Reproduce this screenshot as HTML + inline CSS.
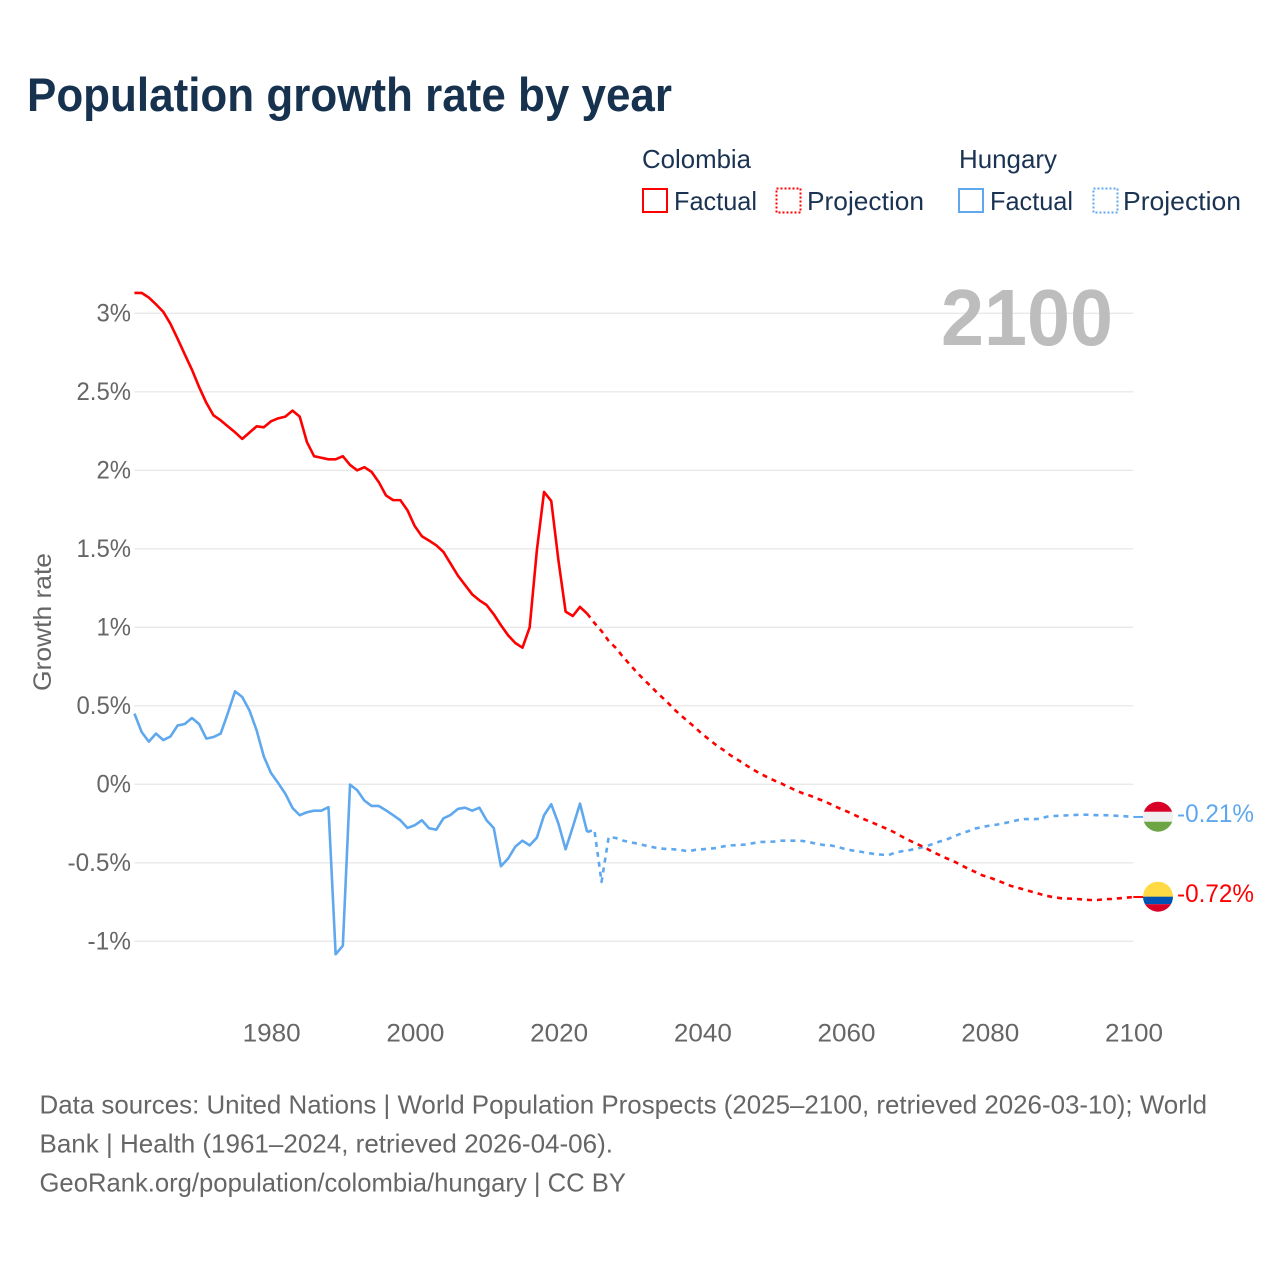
<!DOCTYPE html>
<html lang="en">
<head>
<meta charset="utf-8">
<title>Population growth rate by year</title>
<style>
html,body{margin:0;padding:0;background:#fff;}
svg{display:block;font-family:"Liberation Sans",sans-serif;}
</style>
</head>
<body>
<svg id="chart" xmlns="http://www.w3.org/2000/svg" width="1280" height="1280" viewBox="0 0 1280 1280">
  <defs>
    <clipPath id="clip-hu"><circle cx="1158" cy="816.7" r="15"/></clipPath>
    <clipPath id="clip-co"><circle cx="1158" cy="896.7" r="15"/></clipPath>
  </defs>
  <rect width="1280" height="1280" fill="#fff"/>

  <text x="27" y="111" font-size="47" font-weight="700" fill="#17324f" textLength="645" lengthAdjust="spacingAndGlyphs">Population growth rate by year</text>

  <g font-size="26" fill="#1b3352">
    <text x="642" y="168" textLength="109" lengthAdjust="spacingAndGlyphs">Colombia</text>
    <text x="959" y="168" textLength="98" lengthAdjust="spacingAndGlyphs">Hungary</text>
    <rect x="643" y="189" width="24" height="23" fill="none" stroke="#ff0000" stroke-width="2"/>
    <text x="674" y="210" textLength="83" lengthAdjust="spacingAndGlyphs">Factual</text>
    <rect x="776.5" y="188.5" width="24" height="24" fill="none" stroke="#ff0000" stroke-width="2" stroke-dasharray="2 2"/>
    <text x="807" y="210" textLength="117" lengthAdjust="spacingAndGlyphs">Projection</text>
    <rect x="959" y="189" width="24" height="23" fill="none" stroke="#5fa8ee" stroke-width="2"/>
    <text x="990" y="210" textLength="83" lengthAdjust="spacingAndGlyphs">Factual</text>
    <rect x="1093.5" y="188.5" width="24" height="24" fill="none" stroke="#5fa8ee" stroke-width="2" stroke-dasharray="2 2"/>
    <text x="1123" y="210" textLength="118" lengthAdjust="spacingAndGlyphs">Projection</text>
  </g>

  <g id="grid"></g>
  <g id="yticks" font-size="25" fill="#666"></g>
  <g id="xticks" font-size="25" fill="#666"></g>

  <text transform="translate(51 691) rotate(-90)" font-size="25" fill="#666" textLength="138" lengthAdjust="spacingAndGlyphs">Growth rate</text>

  <text x="941" y="345" font-size="80" font-weight="700" fill="#bdbdbd" textLength="172" lengthAdjust="spacingAndGlyphs">2100</text>

  <g id="series"></g>

  <g clip-path="url(#clip-hu)">
    <rect x="1143" y="801" width="30" height="11" fill="#d80027"/>
    <rect x="1143" y="811.7" width="30" height="10" fill="#f0f0f0"/>
    <rect x="1143" y="821.7" width="30" height="11" fill="#6da544"/>
  </g>
  <g clip-path="url(#clip-co)">
    <rect x="1143" y="881" width="30" height="16" fill="#ffda44"/>
    <rect x="1143" y="896.7" width="30" height="7.5" fill="#0052b4"/>
    <rect x="1143" y="904.2" width="30" height="9" fill="#d80027"/>
  </g>
  <text x="1177" y="822" font-size="25" fill="#5fa8ee" textLength="77" lengthAdjust="spacingAndGlyphs">-0.21%</text>
  <text x="1177" y="902" font-size="25" fill="#ff0000" textLength="77" lengthAdjust="spacingAndGlyphs">-0.72%</text>

  <g font-size="26" fill="#666">
    <text x="39.5" y="1113.5" textLength="1167.5" lengthAdjust="spacingAndGlyphs">Data sources: United Nations | World Population Prospects (2025–2100, retrieved 2026-03-10); World</text>
    <text x="39.5" y="1152.5" textLength="573.5" lengthAdjust="spacingAndGlyphs">Bank | Health (1961–2024, retrieved 2026-04-06).</text>
    <text x="39.5" y="1191.5" textLength="586.5" lengthAdjust="spacingAndGlyphs">GeoRank.org/population/colombia/hungary | CC BY</text>
  </g>
</svg>

<script>
const factualStartYear = 1961;
const projectionStartYear = 2024;
const yTickValues = [3, 2.5, 2, 1.5, 1, 0.5, 0, -0.5, -1];
const yTickLabels = ["3%", "2.5%", "2%", "1.5%", "1%", "0.5%", "0%", "-0.5%", "-1%"];
const xTickValues = [1980, 2000, 2020, 2040, 2060, 2080, 2100];

// 1961-2024
const colombiaFactual = [
3.13,3.13,3.10,3.057,3.01,2.934,2.838,2.739,2.641,2.53,
2.43,2.35,2.318,2.28,2.242,2.20,2.24,2.28,2.274,2.312,
2.331,2.342,2.38,2.342,2.18,2.09,2.08,2.07,2.07,2.09,
2.034,2.00,2.02,1.99,1.925,1.84,1.81,1.81,1.745,1.645,
1.58,1.552,1.522,1.48,1.405,1.33,1.27,1.21,1.172,1.142,
1.083,1.013,0.949,0.90,0.87,1.00,1.49,1.862,1.805,1.427,
1.10,1.072,1.13,1.087];

// 2024-2100
const colombiaProjection = [
1.087,1.028,0.976,0.913,0.868,0.811,0.76,0.709,0.662,0.618,
0.571,0.531,0.482,0.441,0.401,0.363,0.32,0.285,0.248,0.217,
0.183,0.155,0.125,0.096,0.07,0.047,0.025,0.006,-0.017,-0.038,
-0.057,-0.072,-0.091,-0.108,-0.129,-0.151,-0.17,-0.191,-0.212,-0.231,
-0.25,-0.27,-0.289,-0.312,-0.338,-0.361,-0.382,-0.403,-0.429,-0.45,
-0.471,-0.49,-0.514,-0.537,-0.558,-0.58,-0.594,-0.611,-0.629,-0.648,
-0.66,-0.673,-0.686,-0.699,-0.711,-0.72,-0.726,-0.728,-0.73,-0.734,
-0.737,-0.737,-0.732,-0.73,-0.726,-0.722,-0.718];

// 1961-2024
const hungaryFactual = [
0.45,0.333,0.272,0.323,0.282,0.304,0.374,0.384,0.422,0.384,
0.291,0.301,0.323,0.454,0.592,0.556,0.471,0.344,0.178,0.072,
0.008,-0.06,-0.151,-0.197,-0.178,-0.168,-0.168,-0.146,-1.083,-1.028,
-0.002,-0.038,-0.104,-0.138,-0.138,-0.166,-0.197,-0.229,-0.278,-0.261,
-0.229,-0.28,-0.289,-0.217,-0.195,-0.157,-0.149,-0.168,-0.149,-0.229,
-0.278,-0.522,-0.473,-0.397,-0.359,-0.389,-0.34,-0.197,-0.127,-0.25,
-0.414,-0.272,-0.123,-0.304];

// 2024-2100
const hungaryProjection = [
-0.304,-0.289,-0.622,-0.335,-0.342,-0.359,-0.369,-0.378,-0.389,-0.399,
-0.408,-0.412,-0.414,-0.418,-0.427,-0.418,-0.414,-0.41,-0.406,-0.395,
-0.389,-0.387,-0.384,-0.376,-0.367,-0.367,-0.365,-0.359,-0.359,-0.359,
-0.361,-0.369,-0.38,-0.387,-0.39,-0.401,-0.414,-0.422,-0.429,-0.437,
-0.444,-0.448,-0.45,-0.433,-0.425,-0.418,-0.408,-0.397,-0.382,-0.365,
-0.352,-0.333,-0.314,-0.299,-0.282,-0.272,-0.263,-0.257,-0.248,-0.238,
-0.227,-0.221,-0.223,-0.219,-0.206,-0.202,-0.2,-0.197,-0.195,-0.193,
-0.195,-0.197,-0.197,-0.198,-0.202,-0.204,-0.208];

const NS = "http://www.w3.org/2000/svg";
const RED = "#ff0000";
const BLUE = "#5fa8ee";

// Tick labels are centred on the nominal axis; the drawn plot sits 0.7px further left.
function tickX(year) { return 1134 - (2100 - year) * 7.186; }
function xScale(year) { return tickX(year) - 0.7; }
function yScale(value) { return 784.3 - value * 157; }

function labelWidth(label) {
  let w = 0;
  for (const ch of label) {
    if (ch === "%") w += 20;
    else if (ch === ".") w += 5.5;
    else if (ch === "-") w += 9;
    else w += 14.5;
  }
  return w;
}

function linePoints(values, startYear) {
  return values.map(function (v, i) {
    return xScale(startYear + i).toFixed(2) + "," + yScale(v).toFixed(2);
  }).join(" ");
}

const gridGroup = document.getElementById("grid");
const yTickGroup = document.getElementById("yticks");
const xTickGroup = document.getElementById("xticks");
const seriesGroup = document.getElementById("series");

yTickValues.forEach(function (value, i) {
  const line = document.createElementNS(NS, "line");
  
  
  line.setAttribute("x1", xScale(factualStartYear));
  line.setAttribute("x2", xScale(2100));
  line.setAttribute("y1", yScale(value));
  line.setAttribute("y2", yScale(value));
  line.setAttribute("stroke", "#e9e9e9");
  line.setAttribute("stroke-width", "1.3");
  gridGroup.appendChild(line);

  const label = yTickLabels[i];
  const text = document.createElementNS(NS, "text");
  
  
  text.setAttribute("x", 131);
  text.setAttribute("y", yScale(value) + 8);
  text.setAttribute("text-anchor", "end");
  text.setAttribute("textLength", labelWidth(label));
  text.setAttribute("lengthAdjust", "spacingAndGlyphs");
  text.textContent = label;
  yTickGroup.appendChild(text);
});

xTickValues.forEach(function (year) {
  const label = String(year);
  const text = document.createElementNS(NS, "text");
  
  
  text.setAttribute("x", tickX(year));
  text.setAttribute("y", 1041.5);
  text.setAttribute("text-anchor", "middle");
  text.setAttribute("textLength", labelWidth(label));
  text.setAttribute("lengthAdjust", "spacingAndGlyphs");
  text.textContent = label;
  xTickGroup.appendChild(text);
});

function addSeries(name, values, startYear, color, dashed) {
  const poly = document.createElementNS(NS, "polyline");
  
  
  poly.setAttribute("points", linePoints(values, startYear));
  poly.setAttribute("fill", "none");
  poly.setAttribute("stroke", color);
  poly.setAttribute("stroke-width", "2.6");
  poly.setAttribute("stroke-linejoin", "round");
  if (dashed) poly.setAttribute("stroke-dasharray", "5 5");
  seriesGroup.appendChild(poly);
}

function addConnector(name, value, color) {
  const line = document.createElementNS(NS, "line");
  
  
  line.setAttribute("x1", xScale(2100));
  line.setAttribute("x2", xScale(2100) + 10);
  line.setAttribute("y1", yScale(value));
  line.setAttribute("y2", yScale(value));
  line.setAttribute("stroke", color);
  line.setAttribute("stroke-width", "2");
  seriesGroup.appendChild(line);
}

addSeries("hungary-factual-line", hungaryFactual, factualStartYear, BLUE, false);
addSeries("hungary-projection-line", hungaryProjection, projectionStartYear, BLUE, true);
addSeries("colombia-factual-line", colombiaFactual, factualStartYear, RED, false);
addSeries("colombia-projection-line", colombiaProjection, projectionStartYear, RED, true);
addConnector("hungary-flag-connector", hungaryProjection[hungaryProjection.length - 1], BLUE);
addConnector("colombia-flag-connector", colombiaProjection[colombiaProjection.length - 1], RED);
</script>
</body>
</html>
